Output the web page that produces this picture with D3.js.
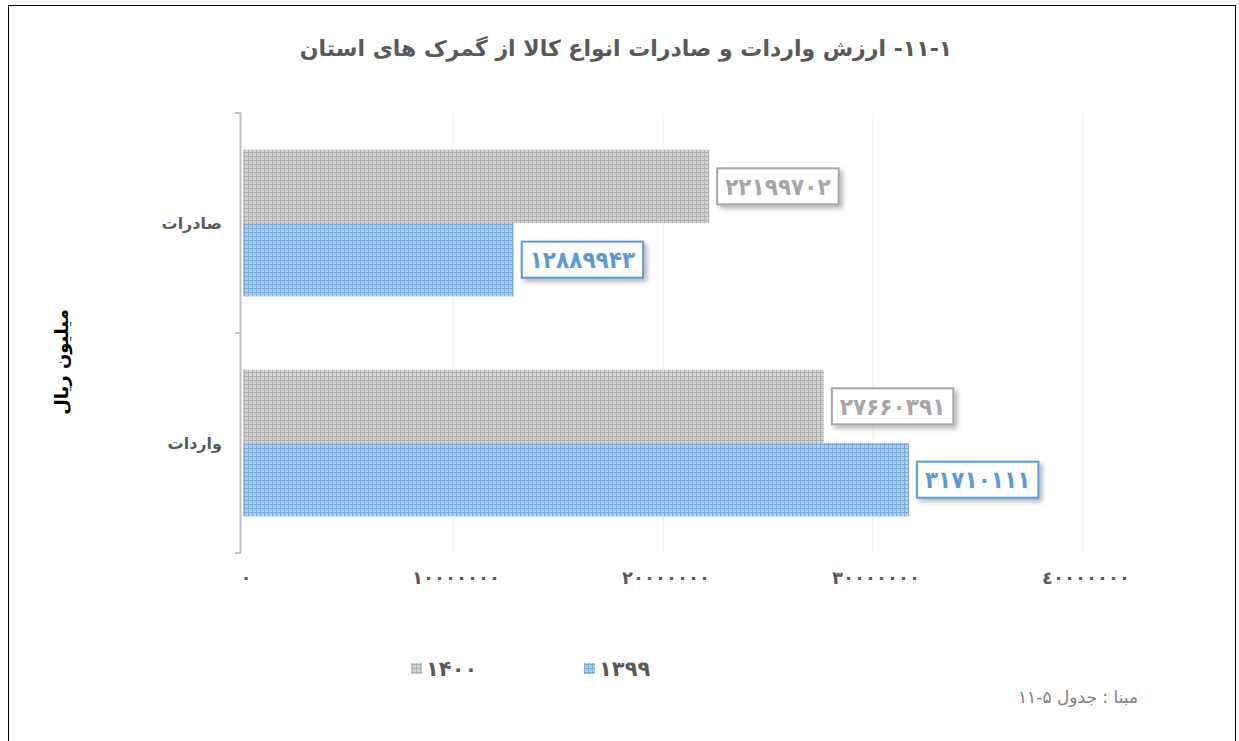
<!DOCTYPE html>
<html>
<head>
<meta charset="utf-8">
<script src="https://cdn.jsdelivr.net/npm/d3@7"></script>
<style>
  body { margin: 0; background: #fff; }
  svg { display: block; font-family: "DejaVu Sans", sans-serif; }
</style>
</head>
<body>
<svg id="chart" width="1239" height="741"></svg>
<script>
const categories = ["صادرات", "واردات"];
const years = ["۱۴۰۰", "۱۳۹۹"];
const values1400 = [22199702, 27660391];
const values1399 = [12889943, 31710111];
const valueLabels1400 = ["۲۲۱۹۹۷۰۲", "۲۷۶۶۰۳۹۱"];
const valueLabels1399 = ["۱۲۸۸۹۹۴۳", "۳۱۷۱۰۱۱۱"];
const tickValues = [0, 10000000, 20000000, 30000000, 40000000];
const tickLabels = ["۰", "۱۰۰۰۰۰۰۰", "۲۰۰۰۰۰۰۰", "۳۰۰۰۰۰۰۰", "٤۰۰۰۰۰۰۰"];

const svg = d3.select("#chart");

// outer frame
svg.append("rect")
  .attr("x", 8.5).attr("y", 5.5)
  .attr("width", 1227).attr("height", 745)
  .attr("fill", "none").attr("stroke", "#000").attr("stroke-width", 1);

// patterns
const defs = svg.append("defs");
function makePattern(id, bg, line) {
  const p = defs.append("pattern")
    .attr("id", id)
    .attr("patternUnits", "userSpaceOnUse")
    .attr("width", 4).attr("height", 4);
  p.append("rect").attr("width", 4).attr("height", 4).attr("fill", bg);
  p.append("rect").attr("x", 0).attr("y", 0).attr("width", 4).attr("height", 1).attr("fill", line);
  p.append("rect").attr("x", 0).attr("y", 0).attr("width", 1).attr("height", 4).attr("fill", line);
}
makePattern("pGray", "#d4d4d4", "#b0b0b0");
makePattern("pBlue", "#add0ee", "#78abdd");

const shadow = defs.append("filter").attr("id", "shadow")
  .attr("x", "-20%").attr("y", "-30%").attr("width", "150%").attr("height", "180%");
shadow.append("feDropShadow")
  .attr("dx", 3).attr("dy", 3).attr("stdDeviation", 2.5)
  .attr("flood-color", "#000").attr("flood-opacity", 0.3);

const x = d3.scaleLinear().domain([0, 40000000]).range([243, 1083]);
const y = d3.scaleBand().domain(categories).range([113, 553]);
const ySub = d3.scaleBand().domain(years).range([0, y.bandwidth()]).paddingOuter(0.5);

// gridlines
svg.append("g")
  .selectAll("line")
  .data(tickValues.slice(1))
  .join("line")
  .attr("x1", d => x(d)).attr("x2", d => x(d))
  .attr("y1", 113).attr("y2", 553)
  .attr("stroke", "#ececec").attr("stroke-width", 1);

// bars
const series = [
  { year: years[0], values: values1400, labels: valueLabels1400, fill: "url(#pGray)", border: "#a6a6a6", color: "#a6a6a6" },
  { year: years[1], values: values1399, labels: valueLabels1399, fill: "url(#pBlue)", border: "#5b9bd5", color: "#5b9bd5" }
];

series.forEach(s => {
  svg.append("g").selectAll("rect")
    .data(categories)
    .join("rect")
    .attr("x", x(0))
    .attr("y", (c) => y(c) + ySub(s.year))
    .attr("width", (c, i) => x(s.values[i]) - x(0))
    .attr("height", ySub.bandwidth())
    .attr("fill", s.fill);
});

// value labels
series.forEach(s => {
  const g = svg.append("g");
  categories.forEach((c, i) => {
    const cy = y(c) + ySub(s.year) + ySub.bandwidth() / 2;
    const lx = x(s.values[i]) + 8;
    const t = g.append("text")
      .attr("x", lx + 8).attr("y", cy)
      .attr("dy", "0.36em")
      .attr("font-family", "'DejaVu Sans Condensed', 'DejaVu Sans', sans-serif")
      .attr("font-size", 24).attr("font-weight", "bold")
      .attr("fill", s.color)
      .text(s.labels[i]);
    const w = t.node().getComputedTextLength();
    g.insert("rect", "text")
      .attr("x", lx).attr("y", cy - 18)
      .attr("width", w + 16).attr("height", 36)
      .attr("fill", "#fff").attr("stroke", s.border).attr("stroke-width", 2)
      .attr("filter", "url(#shadow)");
  });
});

// y axis
const yAxis = svg.append("g");
yAxis.append("line")
  .attr("x1", 240.5).attr("x2", 240.5).attr("y1", 113).attr("y2", 553)
  .attr("stroke", "#bfbfbf").attr("stroke-width", 2);
yAxis.selectAll(".tick")
  .data([113, 333, 553])
  .join("line")
  .attr("x1", 235).attr("x2", 241).attr("y1", d => d).attr("y2", d => d)
  .attr("stroke", "#bfbfbf").attr("stroke-width", 2);
yAxis.selectAll("text")
  .data(categories)
  .join("text")
  .attr("x", 222).attr("y", c => y(c) + y.bandwidth() / 2)
  .attr("dy", "0.35em")
  .attr("text-anchor", "end")
  .attr("font-size", 16).attr("font-weight", "bold")
  .attr("fill", "#595959")
  .text(c => c);

// x tick labels
svg.append("g").selectAll("text")
  .data(tickValues)
  .join("text")
  .attr("x", d => x(d) + 3).attr("y", 578)
  .attr("dy", "0.35em")
  .attr("text-anchor", "middle")
  .attr("font-size", 18).attr("font-weight", "bold")
  .attr("letter-spacing", "6px")
  .attr("fill", "#595959")
  .text((d, i) => tickLabels[i]);

// title
svg.append("text")
  .attr("x", 626).attr("y", 56)
  .attr("text-anchor", "middle")
  .attr("direction", "rtl")
  .attr("font-size", 22).attr("font-weight", "bold")
  .attr("fill", "#595959")
  .text("۱۱-۱- ارزش واردات و صادرات انواع کالا از گمرک های استان");

// y axis title
svg.append("text")
  .attr("transform", "translate(62,362) rotate(-90)")
  .attr("text-anchor", "middle")
  .attr("direction", "rtl")
  .attr("dy", "0.35em")
  .attr("font-size", 18).attr("font-weight", "bold")
  .attr("fill", "#000")
  .text("میلیون ریال");

// legend
const legend = svg.append("g");
const legendItems = [
  { label: years[0], fill: "url(#pGray)", x: 411 },
  { label: years[1], fill: "url(#pBlue)", x: 584 }
];
legendItems.forEach(l => {
  legend.append("rect")
    .attr("x", l.x).attr("y", 663).attr("width", 11).attr("height", 11)
    .attr("fill", l.fill);
  legend.append("text")
    .attr("x", l.x + 15).attr("y", 669)
    .attr("dy", "0.35em")
    .attr("font-size", 21).attr("font-weight", "bold")
    .attr("fill", "#595959")
    .text(l.label);
});

// source note
svg.append("text")
  .attr("x", 1138).attr("y", 697)
  .attr("dy", "0.35em")
  .attr("text-anchor", "start")
  .attr("direction", "rtl")
  .attr("font-size", 17)
  .attr("fill", "#7f7f7f")
  .text("مبنا : جدول ۵-۱۱");
</script>
</body>
</html>
